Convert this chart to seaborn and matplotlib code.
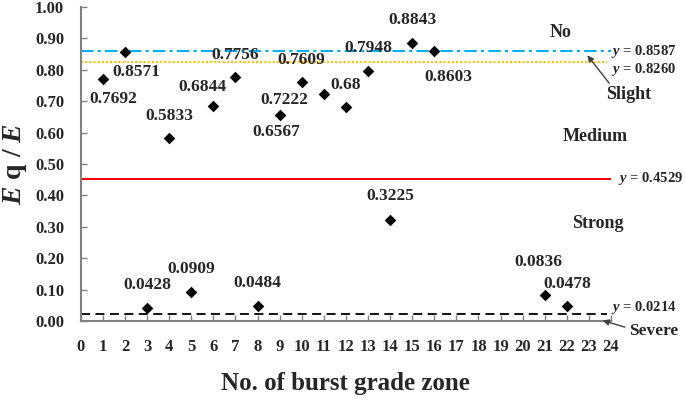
import matplotlib
matplotlib.use("Agg")
import matplotlib.pyplot as plt
import seaborn as sns

# burst grade zones and measured Eq/E ratios
zone = [1, 2, 3, 4, 5, 6, 7, 8, 9, 10, 11, 12, 13, 14, 15, 16, 21, 22]
ratio = [0.7692, 0.8571, 0.0428, 0.5833, 0.0909, 0.6844, 0.7756, 0.0484, 0.6567,
         0.7609, 0.7222, 0.68, 0.7948, 0.3225, 0.8843, 0.8603, 0.0836, 0.0478]
labels = ['0.7692', '0.8571', '0.0428', '0.5833', '0.0909', '0.6844', '0.7756', '0.0484', '0.6567',
          '0.7609', '0.7222', '0.68', '0.7948', '0.3225', '0.8843', '0.8603', '0.0836', '0.0478']
# label offsets in pixels
offsets = [(10, -20), (11, -20), (0, 23), (0, 22), (0, 23), (-11, 19), (0, 22), (0, 23), (-3, -17),
           (0, 22), (-40, -6), (0, 22), (0, 23), (0, 24), (0, 23), (14, -26), (-6, 33), (0, 22)]

# grade thresholds
thresholds = [0.8587, 0.8260, 0.4529, 0.0214]

sns.set_style('ticks')
plt.rcParams['font.family'] = ['Liberation Serif', 'DejaVu Serif']
plt.rcParams['font.weight'] = 'bold'
plt.rcParams['mathtext.fontset'] = 'custom'
plt.rcParams['mathtext.rm'] = 'Liberation Serif:bold'
plt.rcParams['mathtext.bf'] = 'Liberation Serif:bold'
plt.rcParams['mathtext.it'] = 'Liberation Serif:italic:bold'
plt.rcParams['mathtext.bfit'] = 'Liberation Serif:italic:bold'

fig = plt.figure(figsize=(6.85, 4), dpi=100)
ax = fig.add_axes([0.118, 0.1975, 0.774, 0.785])

ax.hlines(thresholds[0], 0, 24, colors='#00B0F0', linestyles=(0, (6, 2, 1.5, 2)), lw=1.5)
ax.hlines(thresholds[1], 0, 23.8, colors='#FFC000', linestyles=(0, (1, 1)), lw=1.5)
ax.hlines(thresholds[2], 0, 24.2, colors='#FF0000', linestyles='-', lw=1.5)
ax.hlines(thresholds[3], 0, 23.8, colors='black', linestyles=(0, (5, 3)), lw=1.3)

sns.scatterplot(x=zone, y=ratio, marker='D', color='black', s=35, ax=ax, zorder=5,
                edgecolor='black', linewidth=0)

for xv, yv, lab, off in zip(zone, ratio, labels, offsets):
    ax.annotate(lab, (xv, yv), xytext=off, textcoords='offset pixels',
                ha='center', va='center', fontsize=12.5, fontweight='bold')

# threshold labels
ax.text(24.0, thresholds[0], r'$\mathbfit{y}$ = 0.8587', fontsize=10.5, va='center', ha='left', clip_on=False)
ax.text(24.0, 0.800, r'$\mathbfit{y}$ = 0.8260', fontsize=10.5, va='center', ha='left', clip_on=False)
ax.text(24.3, thresholds[2], r'$\mathbfit{y}$ = 0.4529', fontsize=10.5, va='center', ha='left', clip_on=False)
ax.text(24.0, 0.042, r'$\mathbfit{y}$ = 0.0214', fontsize=10.5, va='center', ha='left', clip_on=False)

# grade zone names
ax.text(21.7, 0.92, 'No', fontsize=13, ha='center', va='center')
ax.text(24.8, 0.72, 'Slight', fontsize=13, ha='center', va='center', clip_on=False)
ax.annotate('', xy=(22.85, 0.853), xytext=(24.0, 0.75),
            arrowprops=dict(arrowstyle='-|>', color='#404040', lw=1, mutation_scale=9))
ax.text(23.3, 0.586, 'Medium', fontsize=13, ha='center', va='center')
ax.text(23.4, 0.31, 'Strong', fontsize=13, ha='center', va='center')
ax.text(25.95, -0.032, 'Severe', fontsize=12.5, ha='center', va='center', clip_on=False)
ax.annotate('', xy=(23.5, 0.004), xytext=(24.75, -0.022),
            arrowprops=dict(arrowstyle='-|>', color='#404040', lw=1, mutation_scale=9),
            annotation_clip=False)

ax.set_xlim(0, 24)
ax.set_ylim(0, 1.0)
ax.set_xticks(range(0, 25))
ax.set_yticks([i / 10 for i in range(11)])
ax.set_yticklabels([f'{i / 10:.2f}' for i in range(11)])
ax.tick_params(axis='both', direction='in', length=4, width=1, color='#808080', labelsize=12)
ax.tick_params(axis='x', pad=13)
ax.tick_params(axis='y', pad=12)
for lab in ax.get_xticklabels() + ax.get_yticklabels():
    lab.set_fontweight('bold')

sns.despine(ax=ax)
for side in ['left', 'bottom']:
    ax.spines[side].set_color('#808080')
    ax.spines[side].set_linewidth(1.5)

ax.set_xlabel('No. of burst grade zone', fontsize=18, fontweight='bold', labelpad=12)
ax.set_ylabel(r'$\mathbfit{E}$ q / $\mathbfit{E}$', fontsize=20, fontweight='bold', labelpad=4)

fig.savefig('out.png', dpi=100)
